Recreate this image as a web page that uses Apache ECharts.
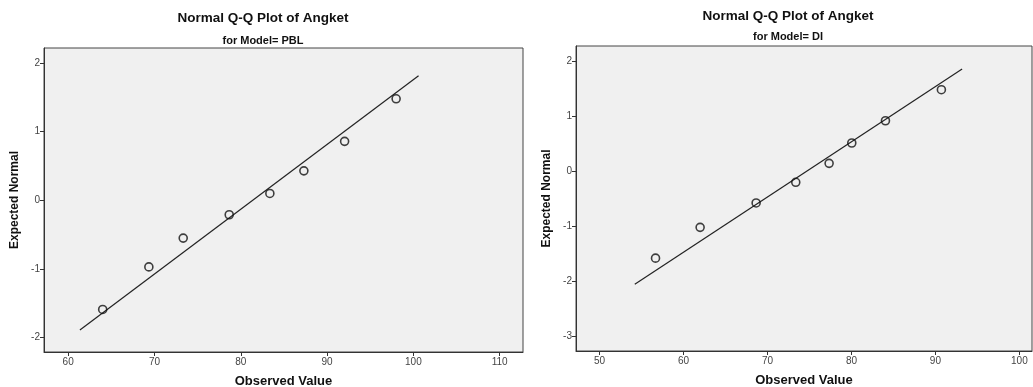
<!DOCTYPE html>
<html><head><meta charset="utf-8">
<script src="https://cdn.jsdelivr.net/npm/echarts@6/dist/echarts.min.js"></script>
<style>html,body{margin:0;padding:0;background:#fff}#c{width:1033px;height:387px}</style>
</head><body><div id="c"></div>
<script>
// Left panel: Model = PBL
const pblObserved = [64.0, 69.35, 73.33, 78.66, 83.37, 87.31, 92.03, 98.0];
const pblExpected = [-1.59, -0.97, -0.55, -0.21, 0.10, 0.43, 0.86, 1.48];
const pblLineX = [61.36, 100.6];
const pblLineY = [-1.89, 1.816];
const pblXTicks = [60, 70, 80, 90, 100, 110];
const pblYTicks = [-2, -1, 0, 1, 2];

// Right panel: Model = DI
const diObserved = [56.67, 61.98, 68.65, 73.37, 77.34, 80.04, 84.05, 90.71];
const diExpected = [-1.58, -1.02, -0.576, -0.20, 0.145, 0.515, 0.92, 1.485];
const diLineX = [54.2, 93.18];
const diLineY = [-2.055, 1.86];
const diXTicks = [50, 60, 70, 80, 90, 100];
const diYTicks = [-3, -2, -1, 0, 1, 2];

const FONT = 'Liberation Sans, Arial, sans-serif';
const chart = echarts.init(document.getElementById('c'), null, {renderer: 'canvas'});

function xAxis(idx, min, max, ticks) {
  return {
    type: 'value', gridIndex: idx, min: min, max: max,
    name: 'Observed Value', nameLocation: 'middle', nameGap: 23,
    nameTextStyle: {fontFamily: FONT, fontWeight: 'bold', fontSize: 13, color: '#111'},
    splitLine: {show: false},
    axisLine: {show: true, onZero: false, lineStyle: {color: '#333', width: 1}},
    axisTick: {show: true, customValues: ticks, length: 4, lineStyle: {color: '#333'}},
    axisLabel: {customValues: ticks, fontFamily: FONT, fontSize: 10, color: '#444', margin: 5}
  };
}
function yAxis(idx, min, max, ticks) {
  return {
    type: 'value', gridIndex: idx, min: min, max: max,
    name: 'Expected Normal', nameLocation: 'middle', nameGap: 23, nameRotate: 90,
    nameTextStyle: {fontFamily: FONT, fontWeight: 'bold', fontSize: 12, color: '#111'},
    splitLine: {show: false},
    axisLine: {show: true, onZero: false, lineStyle: {color: '#333', width: 1}},
    axisTick: {show: true, customValues: ticks, length: 4, lineStyle: {color: '#333'}},
    axisLabel: {customValues: ticks, fontFamily: FONT, fontSize: 10, color: '#444', margin: 4}
  };
}
function pts(xs, ys) { return xs.map((x, i) => [x, ys[i]]); }

const titleStyle = {fontFamily: FONT, fontWeight: 'bold', fontSize: 13.5, color: '#111'};
const subStyle = {fontFamily: FONT, fontWeight: 'bold', fontSize: 11, color: '#111'};

const option = {
  animation: false,
  backgroundColor: '#fff',
  title: [
    {text: 'Normal Q-Q Plot of Angket', left: 263, top: 11, padding: 0, textAlign: 'center', textStyle: titleStyle},
    {text: 'for Model= PBL', left: 263, top: 35, padding: 0, textAlign: 'center', textStyle: subStyle},
    {text: 'Normal Q-Q Plot of Angket', left: 788, top: 9.5, padding: 0, textAlign: 'center', textStyle: titleStyle},
    {text: 'for Model= DI', left: 788, top: 31.5, padding: 0, textAlign: 'center', textStyle: subStyle}
  ],
  grid: [
    {left: 44, top: 48, width: 479, height: 304, outerBoundsMode: 'none', containLabel: false,
     show: true, backgroundColor: '#f0f0f0', borderColor: '#444', borderWidth: 1},
    {left: 576, top: 46, width: 456, height: 305, outerBoundsMode: 'none', containLabel: false,
     show: true, backgroundColor: '#f0f0f0', borderColor: '#444', borderWidth: 1}
  ],
  xAxis: [xAxis(0, 57.2, 112.7, pblXTicks), xAxis(1, 47.2, 101.5, diXTicks)],
  yAxis: [yAxis(0, -2.21, 2.22, pblYTicks), yAxis(1, -3.27, 2.28, diYTicks)],
  series: [
    {type: 'line', xAxisIndex: 0, yAxisIndex: 0, data: pts(pblLineX, pblLineY), symbol: 'none',
     lineStyle: {color: '#222', width: 1.2}, z: 2},
    {type: 'scatter', xAxisIndex: 0, yAxisIndex: 0, data: pts(pblObserved, pblExpected), symbol: 'circle', symbolSize: 8,
     itemStyle: {color: 'rgba(0,0,0,0)', borderColor: '#111', borderWidth: 1.6}, z: 3},
    {type: 'line', xAxisIndex: 1, yAxisIndex: 1, data: pts(diLineX, diLineY), symbol: 'none',
     lineStyle: {color: '#222', width: 1.2}, z: 2},
    {type: 'scatter', xAxisIndex: 1, yAxisIndex: 1, data: pts(diObserved, diExpected), symbol: 'circle', symbolSize: 8,
     itemStyle: {color: 'rgba(0,0,0,0)', borderColor: '#111', borderWidth: 1.6}, z: 3}
  ]
};
chart.setOption(option);
</script></body></html>
